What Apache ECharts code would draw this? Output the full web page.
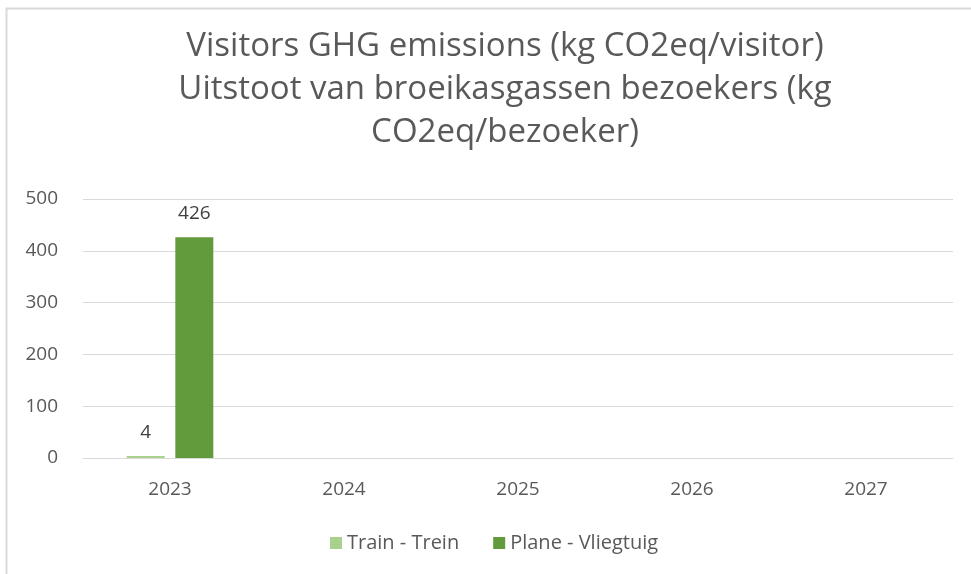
<!DOCTYPE html>
<html>
<head>
<meta charset="utf-8">
<script src="https://cdn.jsdelivr.net/npm/echarts@6/dist/echarts.min.js"></script>
<style>html,body{margin:0;padding:0;background:#fff}#c{width:971px;height:574px}</style>
</head>
<body>
<div id="c"></div>
<script>
const titleLines = ['Visitors GHG emissions (kg CO2eq/visitor)', 'Uitstoot van broeikasgassen bezoekers (kg', 'CO2eq/bezoeker)'];
const categories = ['2023', '2024', '2025', '2026', '2027'];
const trainValues = [4, null, null, null, null];
const planeValues = [426, null, null, null, null];
const yTicks = [0, 100, 200, 300, 400, 500];
const seriesNames = ['Train - Trein', 'Plane - Vliegtuig'];

const chart = echarts.init(document.getElementById('c'));
const font = 'Open Sans';
const labelStyle = {show: true, position: 'top', color: '#404040', fontSize: 19, fontFamily: font, distance: 14};
chart.setOption({
  animation: false,
  backgroundColor: '#fff',
  title: {
    text: titleLines.join('\n'),
    left: 500, top: 20, textAlign: 'center',
    textStyle: {fontFamily: font, fontSize: 33, fontWeight: 'normal', color: '#595959', lineHeight: 43}
  },
  graphic: [{
    type: 'rect', silent: true,
    shape: {x: 6.5, y: 8.5, width: 1000, height: 1000},
    style: {fill: null, stroke: '#d9d9d9', lineWidth: 2}
  }],
  grid: {left: 83, right: 18, top: 199, bottom: 116},
  legend: {
    data: seriesNames, top: 528, left: 325, itemWidth: 12, itemHeight: 12, itemGap: 34,
    icon: 'rect',
    textStyle: {fontFamily: font, fontSize: 20, color: '#595959'}
  },
  xAxis: {
    type: 'category', data: categories,
    axisLine: {lineStyle: {color: '#d9d9d9'}},
    axisTick: {show: false},
    axisLabel: {fontFamily: font, fontSize: 19, color: '#595959', margin: 22}
  },
  yAxis: {
    type: 'value', min: yTicks[0], max: yTicks[yTicks.length - 1], interval: 100,
    axisLine: {show: false}, axisTick: {show: false},
    splitLine: {lineStyle: {color: '#d9d9d9', width: 1}},
    axisLabel: {fontFamily: font, fontSize: 19, color: '#595959', margin: 25}
  },
  series: [
    {name: seriesNames[0], type: 'bar', data: trainValues, barWidth: 38, barGap: '28%',
     itemStyle: {color: '#A9D18E'}, label: labelStyle},
    {name: seriesNames[1], type: 'bar', data: planeValues, barWidth: 38,
     itemStyle: {color: '#629B3C'}, label: labelStyle}
  ]
});
</script>
</body>
</html>
